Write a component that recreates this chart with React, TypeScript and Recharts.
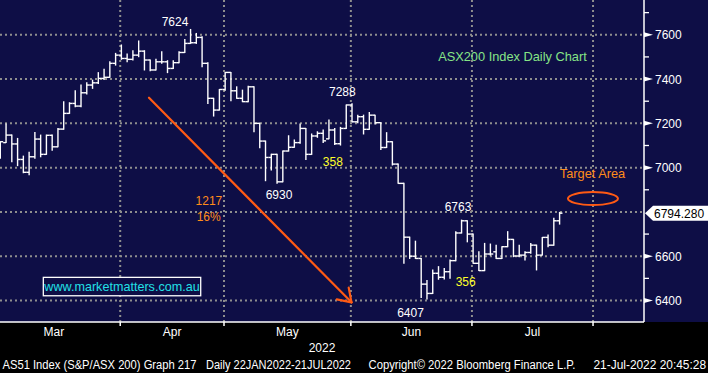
import React from 'react';
import { ComposedChart, Bar, XAxis, YAxis, CartesianGrid, ReferenceDot, ReferenceLine } from 'recharts';

// Daily OHLC of the S&P/ASX 200 (AS51), early Mar 2022 -> 21 Jul 2022 (trading-day index 0..97)
const opens = [
  7060, 7113, 7147, 7107, 7037, 6979, 7049, 7129, 7060, 7146,
  7094, 7174, 7245, 7290, 7278, 7338, 7373, 7383, 7403, 7408,
  7471, 7508, 7493, 7489, 7508, 7526, 7486, 7441, 7478, 7478,
  7448, 7474, 7520, 7561, 7564, 7588, 7471, 7313, 7260, 7353,
  7430, 7347, 7313, 7298, 7365, 7200, 7120, 7046, 7060, 6936,
  7075, 7092, 7113, 7177, 7060, 7143, 7155, 7130, 7170, 7108,
  7177, 7283, 7207, 7230, 7173, 7237, 7203, 7091, 7117, 7016,
  6929, 6686, 6600, 6590, 6474, 6432, 6523, 6505, 6530, 6580,
  6705, 6760, 6700, 6568, 6535, 6610, 6620, 6590, 6643, 6676,
  6601, 6605, 6617, 6650, 6605, 6685, 6650, 6760,
];
const highs = [
  7117, 7197, 7147, 7132, 7052, 7069, 7159, 7147, 7147, 7147,
  7177, 7298, 7293, 7347, 7373, 7383, 7395, 7429, 7444, 7478,
  7516, 7554, 7513, 7528, 7572, 7528, 7486, 7489, 7523, 7483,
  7483, 7523, 7579, 7624, 7606, 7591, 7474, 7313, 7353, 7430,
  7430, 7365, 7350, 7368, 7365, 7200, 7120, 7061, 7060, 7075,
  7144, 7125, 7197, 7177, 7152, 7162, 7170, 7215, 7177, 7182,
  7283, 7288, 7237, 7237, 7249, 7237, 7203, 7158, 7117, 7016,
  6929, 6686, 6668, 6590, 6490, 6538, 6553, 6545, 6583, 6711,
  6763, 6760, 6700, 6620, 6658, 6655, 6650, 6643, 6711, 6676,
  6650, 6620, 6658, 6650, 6685, 6696, 6771, 6798,
];
const lows = [
  7042, 7113, 7027, 7009, 6977, 6968, 7042, 7049, 7060, 7079,
  7094, 7173, 7245, 7275, 7275, 7332, 7358, 7380, 7398, 7408,
  7463, 7489, 7478, 7486, 7501, 7441, 7438, 7441, 7471, 7429,
  7448, 7474, 7520, 7561, 7561, 7456, 7290, 7233, 7260, 7350,
  7302, 7313, 7298, 7298, 7162, 7090, 6941, 6989, 6930, 6936,
  7075, 7092, 7110, 7037, 7060, 7137, 7113, 7130, 7105, 7102,
  7177, 7207, 7203, 7152, 7173, 7197, 7082, 7091, 7012, 6929,
  6568, 6590, 6590, 6414, 6407, 6432, 6496, 6497, 6500, 6580,
  6705, 6665, 6568, 6535, 6535, 6605, 6590, 6590, 6643, 6598,
  6598, 6583, 6613, 6538, 6605, 6643, 6650, 6745,
];
const closes = [
  7117, 7147, 7107, 7037, 6979, 7049, 7129, 7060, 7146, 7094,
  7174, 7245, 7290, 7278, 7338, 7373, 7383, 7403, 7408, 7471,
  7508, 7493, 7489, 7508, 7526, 7486, 7441, 7478, 7478, 7448,
  7474, 7520, 7561, 7564, 7588, 7471, 7313, 7260, 7353, 7430,
  7347, 7313, 7298, 7365, 7200, 7120, 7046, 7060, 6936, 7075,
  7092, 7113, 7177, 7060, 7143, 7155, 7121, 7170, 7108, 7177,
  7283, 7207, 7230, 7173, 7237, 7203, 7091, 7117, 7016, 6929,
  6686, 6600, 6590, 6474, 6432, 6523, 6505, 6530, 6580, 6705,
  6760, 6700, 6568, 6535, 6610, 6610, 6590, 6643, 6676, 6601,
  6605, 6617, 6650, 6605, 6685, 6650, 6760, 6794.28,
];

const monthLabels = ['Mar', 'Apr', 'May', 'Jun', 'Jul'];
// trading-day index of the first session of Mar, Apr, May, Jun, Jul, Aug
const monthStarts = [-2, 21, 39, 61, 82, 103];
const yMajorTicks = [6400, 6600, 7000, 7200, 7400, 7600];
const yMinorTicks = [6500, 6700, 6900, 7100, 7300, 7500, 7700];
const yGridValues = [6400, 6600, 6800, 7000, 7200, 7400, 7600];
const lastPrice = 6794.28;

const NAVY = '#0e0e46';
const GRID = '#8e8e8e';
const ORANGE = '#ff5a14';
const FONT = '"Liberation Sans", Arial, sans-serif';

const data = opens.map((o, i) => ({ i, range: [lows[i], highs[i]], open: o, close: closes[i] }));

const boundaries = monthStarts.map((s) => s - 0.25);
const monthCenters = monthLabels.map((_, k) => (boundaries[k] + boundaries[k + 1]) / 2);
const visibleBoundaries = boundaries.filter((b) => b > 0);
const xTicks = [...visibleBoundaries, ...monthCenters].sort((a, b) => a - b);

const OHLC = (props: any) => {
  const { x, y, width, height, payload } = props;
  if (x == null || y == null) return null;
  const cx = x + width / 2;
  const top = Math.min(y, y + height);
  const h = Math.abs(height);
  const hi = payload.range[1];
  const lo = payload.range[0];
  const toY = (v: number) => (hi === lo ? top : top + ((hi - v) / (hi - lo)) * h);
  const half = 2.9;
  return (
    <g stroke="#ffffff" strokeWidth={1.4} fill="none">
      <line x1={cx} x2={cx} y1={top - 0.5} y2={top + h + 0.5} />
      <line x1={cx - half} x2={cx} y1={toY(payload.open)} y2={toY(payload.open)} />
      <line x1={cx} x2={cx + half} y1={toY(payload.close)} y2={toY(payload.close)} />
    </g>
  );
};

const XTick = (props: any) => {
  const { x, y, payload } = props;
  const v = payload.value;
  const ci = monthCenters.findIndex((c) => Math.abs(c - v) < 1e-6);
  if (ci >= 0) {
    return (
      <text x={x} y={y + 14} textAnchor="middle" fill="#ffffff" fontSize={12} fontFamily={FONT}>
        {monthLabels[ci]}
      </text>
    );
  }
  return <line x1={x} x2={x} y1={y} y2={y + 4} stroke="#ffffff" strokeWidth={1.5} />;
};

const YTick = (props: any) => {
  const { x, y, payload } = props;
  const v = payload.value;
  if (v === lastPrice) {
    return (
      <g>
        <polygon points={`${x + 1},${y} ${x + 9},${y - 7.5} ${x + 64},${y - 7.5} ${x + 64},${y + 7.5} ${x + 9},${y + 7.5}`} fill="#ffffff" />
        <text x={x + 10} y={y + 4.5} fill="#000000" fontSize={12} fontFamily={FONT}>
          {lastPrice.toFixed(3)}
        </text>
      </g>
    );
  }
  if (yMajorTicks.includes(v)) {
    return (
      <g>
        <polygon points={`${x},${y - 2.5} ${x + 9},${y} ${x},${y + 2.5}`} fill="#ffffff" />
        <text x={x + 11} y={y + 4.5} fill="#ffffff" fontSize={12} fontFamily={FONT}>
          {v}
        </text>
      </g>
    );
  }
  return <line x1={x} x2={x + 5} y1={y} y2={y} stroke="#ffffff" strokeWidth={1.3} />;
};

type Note = { x: number; y: number; text: string; color: string; size: number; anchor?: 'start' | 'middle' | 'end' };
const notes: Note[] = [
  { x: 30.25, y: 7658.7, text: '7624', color: '#ffffff', size: 12 },
  { x: 59.27, y: 7341.3, text: '7288', color: '#ffffff', size: 12 },
  { x: 48.29, y: 6874.9, text: '6930', color: '#ffffff', size: 12 },
  { x: 71.09, y: 6344.8, text: '6407', color: '#ffffff', size: 12 },
  { x: 79.33, y: 6822.1, text: '6763', color: '#ffffff', size: 12 },
  { x: 57.62, y: 7024.3, text: '358', color: '#ffff2a', size: 12 },
  { x: 80.67, y: 6483.4, text: '356', color: '#ffff2a', size: 12 },
  { x: 38.45, y: 6848.3, text: '1217', color: '#ff8c1a', size: 12, anchor: 'end' },
  { x: 38.18, y: 6776.9, text: '16%', color: '#ff8c1a', size: 12, anchor: 'end' },
  { x: 88.78, y: 7503.8, text: 'ASX200 Index Daily Chart', color: '#86e486', size: 12.8 },
  { x: 102.66, y: 6972, text: 'Target Area', color: '#ff8c1a', size: 12.8 },
];

const arrowShape = (p: any) => {
  const { x1, y1, x2, y2 } = p;
  if ([x1, y1, x2, y2].some((v) => v == null || Number.isNaN(v))) return null;
  const ang = Math.atan2(y2 - y1, x2 - x1);
  const len = 15;
  const spread = (34 * Math.PI) / 180;
  const ax = x2 - len * Math.cos(ang - spread);
  const ay = y2 - len * Math.sin(ang - spread);
  const bx = x2 - len * Math.cos(ang + spread);
  const by = y2 - len * Math.sin(ang + spread);
  return (
    <g stroke={ORANGE} strokeWidth={2.2} fill="none" strokeLinecap="round">
      <line x1={x1} y1={y1} x2={x2} y2={y2} />
      <line x1={ax} y1={ay} x2={x2} y2={y2} />
      <line x1={bx} y1={by} x2={x2} y2={y2} />
    </g>
  );
};

export default function App() {
  return (
    <div style={{ position: 'absolute', left: 0, top: 0, width: 708, height: 373, background: '#000000', overflow: 'hidden' }}>
      <div style={{ position: 'absolute', left: 0, top: 0, width: 708, height: 322, background: NAVY }} />
      <div style={{ position: 'absolute', left: 0, top: 0 }}>
        <ComposedChart width={708} height={373} data={data} margin={{ top: 0, right: 0, bottom: 0, left: 0 }}>
          <CartesianGrid
            horizontalValues={yGridValues}
            verticalValues={visibleBoundaries}
            stroke={GRID}
            strokeWidth={2}
            strokeDasharray="2 3"
          />
          <XAxis
            dataKey="i"
            type="number"
            domain={[-0.1, 111.59]}
            allowDataOverflow
            ticks={xTicks}
            interval={0}
            tick={XTick}
            tickLine={false}
            tickSize={0}
            tickMargin={0}
            axisLine={{ stroke: '#ffffff', strokeWidth: 1.5 }}
            height={51}
          />
          <YAxis
            orientation="right"
            type="number"
            domain={[6303, 7757]}
            allowDataOverflow
            ticks={[...yMajorTicks, ...yMinorTicks, lastPrice].sort((a, b) => a - b)}
            interval={0}
            tick={YTick}
            tickLine={false}
            tickSize={0}
            tickMargin={0}
            axisLine={{ stroke: '#ffffff', strokeWidth: 1.5 }}
            width={64}
          />
          <Bar dataKey="range" barSize={6} shape={OHLC} isAnimationActive={false} />
          <ReferenceLine
            segment={[{ x: 25.74, y: 7315.6 }, { x: 60.86, y: 6391.8 }]}
            stroke={ORANGE}
            shape={arrowShape}
            ifOverflow="visible"
          />
          <ReferenceDot
            x={102.74}
            y={6860.5}
            r={1}
            ifOverflow="visible"
            shape={(p: any) => (
              <ellipse cx={p.cx} cy={p.cy} rx={25} ry={6.5} fill="none" stroke={ORANGE} strokeWidth={2} />
            )}
          />
          <ReferenceDot
            x={21.06}
            y={6463}
            r={1}
            ifOverflow="visible"
            shape={(p: any) => (
              <g>
                <rect x={p.cx - 78.7} y={p.cy - 9.2} width={157.4} height={18.4} fill={NAVY} stroke="#ffffff" strokeWidth={1.3} />
                <text x={p.cx} y={p.cy} textAnchor="middle" dominantBaseline="central" fill="#22e0e6" fontSize={12.6} fontFamily={FONT}>
                  www.marketmatters.com.au
                </text>
              </g>
            )}
          />
          {notes.map((n, k) => (
            <ReferenceDot
              key={k}
              x={n.x}
              y={n.y}
              r={1}
              ifOverflow="visible"
              shape={(p: any) => (
                <text
                  x={p.cx}
                  y={p.cy}
                  textAnchor={n.anchor ?? 'middle'}
                  dominantBaseline="central"
                  fill={n.color}
                  fontSize={n.size}
                  fontFamily={FONT}
                >
                  {n.text}
                </text>
              )}
            />
          ))}
        </ComposedChart>
      </div>
      <svg width={708} height={373} style={{ position: 'absolute', left: 0, top: 0, pointerEvents: 'none' }}>
        <text x={322} y={352} textAnchor="middle" fill="#ffffff" fontSize={12} fontFamily={FONT}>2022</text>
        <g fill="#ffffff" fontSize={12} fontFamily={FONT}>
          <text x={2.5} y={369} textLength={194} lengthAdjust="spacingAndGlyphs">AS51 Index (S&amp;P/ASX 200) Graph 217</text>
          <text x={206} y={369} textLength={145} lengthAdjust="spacingAndGlyphs">Daily 22JAN2022-21JUL2022</text>
          <text x={368.5} y={369} textLength={207} lengthAdjust="spacingAndGlyphs">Copyright© 2022 Bloomberg Finance L.P.</text>
          <text x={593.5} y={369} textLength={112.5} lengthAdjust="spacingAndGlyphs">21-Jul-2022 20:45:28</text>
        </g>
      </svg>
    </div>
  );
}
